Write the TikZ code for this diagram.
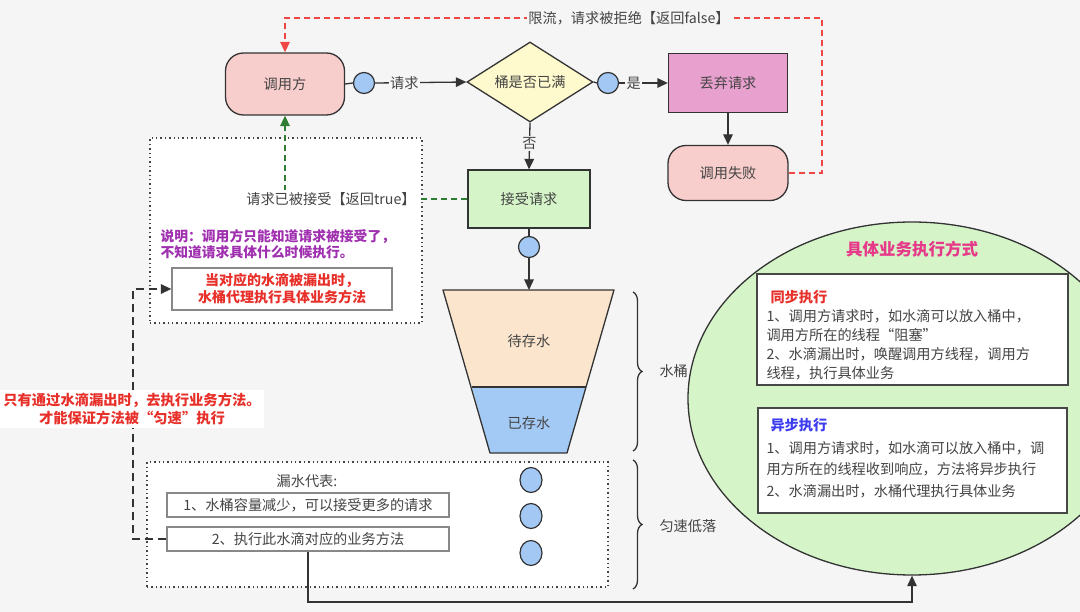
\documentclass[tikz,border=0pt]{standalone}
\usepackage{fontspec}
\newfontfamily\cjk{Noto Sans CJK SC}
\usetikzlibrary{arrows.meta,shapes.geometric,decorations.pathreplacing}
\definecolor{bgc}{HTML}{F5F5F5}
\definecolor{pinkc}{HTML}{F8CECC}
\definecolor{yellowc}{HTML}{FFFACD}
\definecolor{magc}{HTML}{E8A0CE}
\definecolor{greenc}{HTML}{D5F5C8}
\definecolor{dotc}{HTML}{A3C8F4}
\definecolor{topc}{HTML}{FBE5CD}
\definecolor{botc}{HTML}{A3C9F5}
\definecolor{txtc}{HTML}{444444}
\definecolor{linec}{HTML}{333333}
\definecolor{redc}{HTML}{EE4545}
\definecolor{redtxt}{HTML}{E8302A}
\definecolor{purc}{HTML}{A030B0}
\definecolor{pinktitle}{HTML}{E6398A}
\definecolor{bluetitle}{HTML}{3B3BF0}
\definecolor{greend}{HTML}{2E7D32}
\definecolor{grayb}{HTML}{888888}
\tikzset{
  shp/.style={draw=linec, line width=1.3pt, text=txtc},
  rnd/.style={shp, rounded corners=18pt, fill=pinkc},
  dropc/.style={circle, draw=linec, line width=1.2pt, fill=dotc, minimum size=21pt, inner sep=0pt},
  leakc/.style={ellipse, draw=linec, line width=1.2pt, fill=dotc, minimum width=22pt, minimum height=25pt, inner sep=0pt},
  arr/.style={draw=linec, line width=1.3pt, -{Triangle[length=10.5pt,width=9.5pt]}},
  ln/.style={draw=linec, line width=1.3pt},
  lab/.style={fill=bgc, inner sep=1.5pt, text=txtc},
  dotbox/.style={draw=txtc, line width=1.4pt, dash pattern=on 1.4pt off 3pt, fill=white},
  graybox/.style={draw=grayb, line width=1.3pt, fill=white, text=txtc, inner sep=0pt},
  infobox/.style={draw=linec!90, line width=1.6pt, fill=white},
}
\begin{document}
\begin{tikzpicture}[x=1pt,y=-1pt,font=\cjk\fontsize{14.2}{17}\selectfont]
\clip (0,0) rectangle (1080,612);
\fill[bgc] (0,0) rectangle (1080,612);

% dotted containers
\node[dotbox, minimum width=272pt, minimum height=185pt] (expl) at (286,230.5) {};
\node[dotbox, minimum width=461pt, minimum height=125pt] (leak) at (377.5,524.5) {};

% top row
\node[rnd, minimum width=119pt, minimum height=62pt] (caller) at (285,84) {调用方};
\node[dropc] (c1) at (364,83) {};
\node[diamond, shp, fill=yellowc, minimum width=126pt, minimum height=80pt, aspect=1.575, inner sep=0pt] (full) at (530,82) {桶是否已满};
\node[dropc] (c2) at (608,83) {};
\node[shp, fill=magc, minimum width=119pt, minimum height=59pt] (drop) at (728,83) {丢弃请求};
\node[rnd, minimum width=120pt, minimum height=55pt] (fail) at (728,173) {调用失败};
\node[shp, fill=greenc, minimum width=122pt, minimum height=58pt] (accept) at (529,199) {接受请求};
\node[dropc] (c3) at (529,247) {};

\draw[ln] (caller.east) -- (c1.west);
\draw[arr] (c1.east) -- node[lab, pos=0.32] {请求} (full.west);
\draw[ln] (full.east) -- (c2.west);
\draw[arr] (c2.east) -- node[lab, pos=0.3] {是} (drop.west);
\draw[arr] (drop.south) -- (fail.north);
\draw[arr] (full.south) -- node[lab, pos=0.45] {否} (accept.north);
\draw[ln] (accept.south) -- (c3.north);
\coordinate (btop) at (529,290);
\draw[arr] (c3.south) -- (btop);

% red dashed reject path
\coordinate (rc) at (822,18);
\draw[draw=redc, line width=1.5pt, dash pattern=on 6pt off 4pt, -{Triangle[length=10.5pt,width=9.5pt]}] (fail.east) -| (rc) -| (caller.north);
\node[lab] (rejlab) at (629,18) {限流，请求被拒绝【返回false】};

% green dashed accept path
\draw[draw=greend, line width=1.5pt, dash pattern=on 6pt off 4pt, -{Triangle[length=10.5pt,width=9.5pt]}] (accept.west) -| (caller.south);
\node[fill=white, inner sep=2pt, text=txtc] (acclab) at (331,199) {请求已被接受【返回true】};

% explanation
\node[anchor=west, align=left, text=purc, font=\cjk\bfseries\fontsize{13.8}{16.5}\selectfont] (note) at (157,244) {说明：调用方只能知道请求被接受了，\\不知道请求具体什么时候执行。};
\node[graybox, minimum width=220pt, minimum height=42pt, align=center, text=redtxt, font=\cjk\bfseries\fontsize{14}{17}\selectfont] (proxy) at (282,289) {当对应的水滴被漏出时，\\水桶代理执行具体业务方法};

% bucket
\fill[topc] (443,290) -- (614,290) -- (586,387) -- (472,387) -- cycle;
\fill[botc] (472,387) -- (586,387) -- (567,453) -- (490,453) -- cycle;
\draw[ln, line join=round] (443,290) -- (614,290) -- (567,453) -- (490,453) -- cycle;
\draw[ln] (472,387) -- (586,387);
\node[text=txtc] (wait) at (529,341) {待存水};
\node[text=txtc] (have) at (529,423) {已存水};

% braces
\draw[ln, decorate, decoration={brace, amplitude=9pt}] (633,292) -- (633,451);
\node[anchor=west, text=txtc] (bucketlab) at (656,371) {水桶};
\draw[ln, decorate, decoration={brace, amplitude=9pt}] (633,460) -- (633,589);
\node[anchor=west, text=txtc] (ratelab) at (656,526) {匀速低落};

% leak content
\node[text=txtc] (leaktitle) at (307,481) {漏水代表:};
\node[graybox, minimum width=282pt, minimum height=24pt] (leak1) at (308,505) {1、水桶容量减少，可以接受更多的请求};
\node[graybox, minimum width=282pt, minimum height=24pt] (leak2) at (308,539) {2、执行此水滴对应的业务方法};
\node[leakc] (d1) at (531,480) {};
\node[leakc] (d2) at (531,516) {};
\node[leakc] (d3) at (531,553) {};

% left dashed path
\coordinate (lc) at (133,289);
\draw[draw=linec, line width=1.4pt, dash pattern=on 8pt off 5pt, -{Triangle[length=10.5pt,width=9.5pt]}] (leak2.west) -| (lc) -- (proxy.west);
\node[fill=white, inner sep=3pt, align=center, text=redtxt, font=\cjk\bfseries\fontsize{14.3}{18}\selectfont] (onlylab) at (132,409) {只有通过水滴漏出时，去执行业务方法。\\才能保证方法被“匀速”执行};

% ellipse
\node[ellipse, draw=linec, line width=1.3pt, fill=greenc, minimum width=448pt, minimum height=353pt] (ell) at (912,398.5) {};
\coordinate (bt) at (308,602);
\draw[arr] (leak2.south) -- (bt) -| (ell.south);
\node[text=pinktitle, font=\cjk\bfseries\fontsize{16.5}{19}\selectfont] (etitle) at (912,249) {具体业务执行方式};

\node[infobox, minimum width=311pt, minimum height=111pt] (sync) at (912.5,329.5) {};
\node[anchor=west, text=redtxt, font=\cjk\bfseries\fontsize{14.2}{16}\selectfont] (synct) at (767,297) {同步执行};
\node[anchor=north west, align=left, text=txtc, font=\cjk\fontsize{14.2}{19}\selectfont] (syncb) at (763,305.5) {1、调用方请求时，如水滴可以放入桶中，\\调用方所在的线程“阻塞”\\2、水滴漏出时，唤醒调用方线程，调用方\\线程，执行具体业务};

\node[infobox, minimum width=309pt, minimum height=105pt] (async) at (912.5,460.5) {};
\node[anchor=west, text=bluetitle, font=\cjk\bfseries\fontsize{14.2}{16}\selectfont] (asynct) at (767,425) {异步执行};
\node[anchor=north west, align=left, text=txtc, font=\cjk\fontsize{14.2}{21.5}\selectfont] (asyncb) at (763,437.5) {1、调用方请求时，如水滴可以放入桶中，调\\用方所在的线程收到响应，方法将异步执行\\2、水滴漏出时，水桶代理执行具体业务};
\end{tikzpicture}
\end{document}
